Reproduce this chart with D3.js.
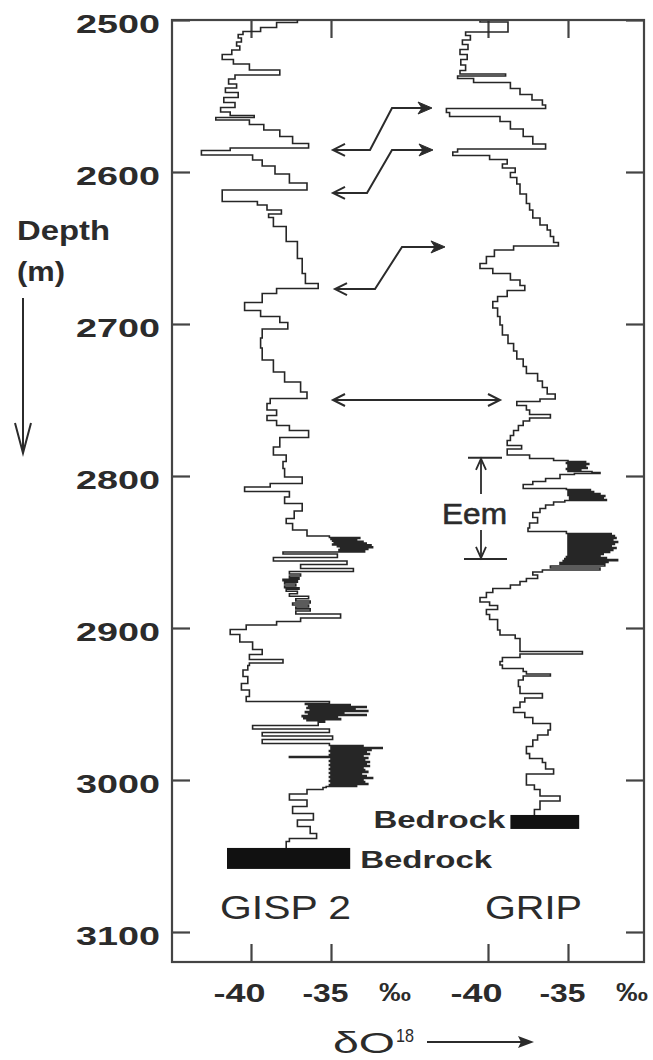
<!DOCTYPE html>
<html><head><meta charset="utf-8">
<script src="https://cdn.jsdelivr.net/npm/d3@7"></script>
<style>body{margin:0;background:#fff;} svg{display:block;}</style>
</head><body>
<svg id="chart" width="653" height="1060"></svg>
<script>
// ---------------- data ----------------
const depthTicks = [2500, 2600, 2700, 2800, 2900, 3000, 3100];
const depthTickLabels = ["2500", "2600", "2700", "2800", "2900", "3000", "3100"];
const valueTicks = [-40, -35];
const valueTickLabels = ["-40", "-35"];
const unitLabel = "‰";
const coreNames = ["GISP 2", "GRIP"];

// [depth (m), δ18O (‰)]
const gispProfile = [[2500.0,-37.1],[2503.3,-38.4],[2506.6,-39.4],[2508.6,-40.5],[2510.5,-40.8],[2513.2,-40.6],[2515.8,-40.9],[2518.4,-40.7],[2521.1,-41.2],[2524.3,-41.8],[2527.6,-41.1],[2530.3,-40.1],[2535.5,-38.2],[2536.8,-41.0],[2540.8,-41.4],[2543.4,-40.9],[2546.1,-41.6],[2549.3,-40.8],[2552.6,-41.7],[2555.9,-41.0],[2559.2,-41.9],[2561.8,-41.3],[2563.8,-39.8],[2564.5,-42.2],[2567.1,-40.1],[2570.4,-39.2],[2574.3,-38.2],[2578.9,-37.4],[2583.6,-36.4],[2584.9,-41.3],[2586.8,-43.1],[2590.8,-39.9],[2593.4,-39.3],[2598.7,-38.5],[2603.9,-37.6],[2610.5,-36.5],[2613.2,-41.8],[2618.4,-41.8],[2620.4,-39.6],[2623.0,-39.0],[2627.0,-38.1],[2628.3,-38.9],[2631.6,-38.6],[2640.1,-37.8],[2651.3,-37.1],[2662.5,-36.8],[2671.1,-36.6],[2675.7,-35.8],[2677.6,-38.4],[2682.2,-39.3],[2689.5,-40.4],[2692.8,-39.4],[2697.4,-38.2],[2700.7,-37.7],[2705.9,-39.3],[2712.5,-39.4],[2719.1,-39.3],[2728.3,-38.6],[2734.9,-37.9],[2741.4,-36.9],[2748.0,-36.5],[2750.0,-38.8],[2754.6,-39.0],[2758.6,-38.4],[2761.8,-39.0],[2765.1,-38.4],[2768.4,-37.6],[2771.7,-36.4],[2777.6,-38.2],[2784.2,-38.6],[2788.2,-37.8],[2792.8,-38.0],[2797.4,-37.9],[2804.0,-36.8],[2805.9,-38.8],[2808.6,-40.4],[2811.8,-37.6],[2815.8,-37.9],[2820.4,-36.8],[2825.7,-37.3],[2830.3,-37.8],[2832.2,-37.4],[2838.8,-36.5],[2840.2,-35.1],[2840.8,-33.2],[2841.4,-35.0],[2842.0,-33.4],[2842.6,-34.9],[2843.2,-33.0],[2843.8,-34.8],[2844.4,-32.8],[2845.0,-34.9],[2845.6,-32.5],[2846.2,-34.6],[2846.8,-32.4],[2847.4,-34.4],[2848.0,-32.7],[2848.7,-34.5],[2849.3,-32.9],[2850.7,-38.0],[2852.0,-34.6],[2855.3,-38.6],[2856.6,-34.0],[2859.9,-36.9],[2861.8,-33.6],[2863.8,-37.6],[2865.1,-36.9],[2866.4,-37.6],[2867.4,-37.0],[2868.4,-38.0],[2869.4,-37.1],[2870.4,-37.9],[2871.7,-37.2],[2873.0,-37.9],[2874.0,-37.0],[2875.0,-37.8],[2876.6,-37.1],[2878.3,-37.6],[2880.0,-36.4],[2881.6,-37.2],[2882.9,-36.3],[2884.2,-37.4],[2885.5,-36.4],[2886.8,-37.2],[2888.1,-36.3],[2889.5,-37.2],[2892.1,-34.4],[2894.7,-36.9],[2896.7,-38.4],[2899.3,-40.3],[2902.6,-41.3],[2905.9,-40.7],[2912.5,-39.9],[2915.8,-39.3],[2919.1,-40.1],[2922.4,-38.0],[2923.7,-40.1],[2925.7,-40.2],[2929.6,-40.5],[2934.2,-40.2],[2938.8,-40.6],[2942.8,-40.1],[2947.4,-40.3],[2949.3,-35.1],[2950.0,-36.6],[2950.7,-33.8],[2951.3,-36.4],[2952.0,-32.8],[2952.6,-36.5],[2953.3,-33.5],[2954.0,-36.3],[2954.6,-32.7],[2955.3,-36.6],[2956.0,-34.2],[2956.6,-36.4],[2957.2,-32.8],[2958.0,-36.8],[2958.6,-34.6],[2959.3,-36.7],[2960.0,-34.4],[2960.5,-36.5],[2961.4,-35.4],[2962.5,-35.8],[2965.8,-39.9],[2967.1,-35.1],[2970.4,-39.3],[2971.7,-34.9],[2975.0,-39.3],[2977.0,-35.1],[2977.7,-33.0],[2978.3,-35.0],[2979.0,-31.8],[2979.6,-35.0],[2980.3,-32.5],[2980.9,-35.1],[2981.5,-32.8],[2982.2,-35.0],[2982.9,-32.6],[2983.5,-35.1],[2984.2,-33.0],[2984.9,-37.6],[2985.5,-32.7],[2986.2,-35.0],[2986.8,-32.9],[2987.5,-35.1],[2988.1,-32.6],[2988.8,-35.0],[2989.5,-32.8],[2990.1,-35.1],[2990.8,-32.6],[2991.4,-35.0],[2992.1,-33.0],[2992.7,-35.1],[2993.4,-32.9],[2994.0,-35.0],[2994.7,-32.7],[2995.4,-35.1],[2996.0,-33.1],[2996.7,-35.0],[2997.4,-32.8],[2998.0,-35.1],[2998.7,-32.4],[2999.3,-35.0],[3000.0,-33.0],[3000.6,-35.1],[3001.3,-32.9],[3002.0,-35.0],[3002.6,-32.7],[3003.3,-35.1],[3003.9,-33.4],[3004.6,-35.3],[3005.3,-35.5],[3007.2,-36.5],[3011.2,-37.6],[3015.1,-36.5],[3019.7,-37.4],[3024.4,-36.1],[3028.3,-37.1],[3032.9,-36.3],[3037.5,-35.9],[3039.5,-37.6],[3041.5,-37.8],[3044.7,-37.8]];

const gripProfile = [[2500.7,-40.5],[2502.0,-38.75],[2507.2,-38.75],[2508.6,-41.4],[2511.8,-41.1],[2514.5,-41.6],[2517.8,-41.25],[2521.1,-41.75],[2524.3,-41.3],[2527.6,-41.7],[2531.6,-41.4],[2534.9,-41.75],[2536.2,-38.9],[2537.5,-41.9],[2539.5,-40.9],[2542.8,-38.6],[2547.4,-38.0],[2550.7,-37.25],[2554.6,-36.6],[2557.2,-36.4],[2559.2,-42.6],[2562.5,-42.4],[2564.5,-39.25],[2569.1,-38.6],[2574.3,-37.8],[2578.9,-37.2],[2584.2,-36.4],[2585.5,-41.9],[2588.2,-42.2],[2590.1,-39.9],[2593.4,-38.8],[2596.1,-39.1],[2598.7,-38.3],[2602.0,-38.6],[2605.3,-38.2],[2610.5,-38.0],[2618.4,-37.6],[2623.0,-37.4],[2627.0,-37.2],[2633.6,-36.75],[2636.2,-36.3],[2640.1,-36.1],[2644.7,-35.9],[2648.0,-35.6],[2649.3,-38.4],[2653.3,-39.6],[2657.9,-40.1],[2662.5,-40.5],[2664.5,-39.7],[2669.1,-38.6],[2673.0,-38.0],[2676.3,-37.7],[2679.6,-38.8],[2684.2,-39.4],[2686.2,-39.7],[2692.8,-39.4],[2697.4,-39.25],[2703.9,-39.1],[2710.5,-38.75],[2715.1,-38.4],[2720.4,-38.2],[2725.7,-37.8],[2730.3,-37.6],[2734.9,-36.9],[2740.1,-36.6],[2743.4,-36.3],[2748.7,-35.8],[2750.0,-36.75],[2752.0,-38.2],[2755.3,-37.6],[2757.9,-37.4],[2761.2,-36.1],[2762.5,-37.4],[2765.1,-37.8],[2768.4,-38.1],[2771.7,-38.4],[2775.0,-38.6],[2778.3,-38.8],[2781.6,-37.9],[2782.9,-38.8],[2784.9,-38.8],[2787.5,-37.4],[2789.5,-35.9],[2790.2,-35.0],[2790.8,-33.9],[2791.4,-35.1],[2792.1,-33.7],[2792.8,-35.0],[2793.4,-33.9],[2794.1,-35.0],[2794.7,-33.8],[2795.4,-35.1],[2796.1,-34.2],[2796.7,-35.0],[2797.4,-33.5],[2798.0,-33.0],[2798.7,-34.6],[2799.3,-35.5],[2800.7,-35.5],[2802.6,-36.4],[2804.6,-37.2],[2806.6,-37.8],[2807.9,-37.8],[2808.6,-35.1],[2809.2,-33.6],[2809.9,-35.0],[2810.5,-33.4],[2811.2,-35.0],[2811.8,-33.0],[2812.5,-35.0],[2813.2,-32.7],[2813.8,-34.9],[2814.5,-32.8],[2815.1,-34.9],[2815.8,-32.6],[2816.5,-35.2],[2817.8,-35.9],[2820.4,-36.4],[2822.4,-36.75],[2825.7,-37.2],[2828.9,-36.9],[2832.9,-37.4],[2835.5,-37.5],[2837.5,-35.1],[2838.1,-32.3],[2838.8,-35.0],[2839.4,-32.1],[2840.1,-35.0],[2840.8,-32.0],[2841.4,-35.0],[2842.1,-32.2],[2842.8,-35.0],[2843.4,-31.9],[2844.1,-35.0],[2844.7,-32.1],[2845.4,-35.0],[2846.1,-32.3],[2846.7,-35.0],[2847.4,-32.0],[2848.0,-35.0],[2848.7,-32.2],[2849.3,-35.0],[2850.0,-32.4],[2850.7,-35.0],[2851.3,-32.8],[2852.0,-35.0],[2852.6,-33.0],[2853.3,-35.1],[2854.0,-32.6],[2854.6,-35.2],[2855.3,-31.9],[2856.0,-35.3],[2856.6,-32.5],[2857.3,-35.5],[2858.6,-32.7],[2859.9,-36.1],[2861.2,-33.0],[2862.5,-36.6],[2863.8,-37.2],[2866.4,-36.9],[2868.4,-37.6],[2870.4,-38.0],[2873.0,-38.6],[2875.0,-39.7],[2878.3,-40.1],[2881.6,-40.5],[2884.2,-39.9],[2886.2,-39.4],[2889.5,-40.1],[2892.8,-39.9],[2896.1,-39.4],[2899.3,-39.4],[2903.3,-39.25],[2905.9,-38.3],[2907.9,-38.0],[2914.5,-38.0],[2916.4,-34.1],[2917.8,-38.0],[2921.1,-39.1],[2923.0,-39.25],[2925.7,-39.1],[2927.6,-37.8],[2929.6,-37.6],[2930.9,-36.1],[2932.2,-37.8],[2936.2,-38.1],[2940.8,-38.0],[2945.4,-36.6],[2946.7,-37.7],[2950.7,-38.0],[2954.0,-38.4],[2957.2,-37.7],[2960.5,-37.2],[2965.1,-36.1],[2969.1,-36.25],[2971.7,-36.9],[2975.7,-37.2],[2980.3,-37.6],[2985.0,-37.4],[2986.8,-36.6],[2990.1,-36.4],[2995.4,-35.9],[2996.7,-37.6],[3002.0,-37.6],[3004.6,-37.1],[3007.9,-36.75],[3013.2,-35.5],[3014.5,-36.75],[3017.8,-36.75],[3021.1,-37.1],[3023.0,-37.1]];

// bedrock bands: [GISP 2, GRIP]
const bedrockTop = [3044.7, 3023.0];
const bedrockBottom = [3058.5, 3032.2];
const bedrockFrom = [-41.5, -38.6];
const bedrockTo = [-33.8, -34.3];
const bedrockLabel = "Bedrock";

// depth tie points between the two cores
const tieGisp = [2585.5, 2613.8, 2677.0, 2750.0];
const tieGrip = [2557.9, 2585.5, 2649.3, 2750.0];

// Eem interval in GRIP
const eemTop = 2788.0, eemBottom = 2854.6;
const eemLabel = "Eem";

// ---------------- drawing ----------------
const svg = d3.select("#chart");
const ink = "#2b2b2b";
const fontSans = "'Liberation Sans', Arial, sans-serif";
const frame = {x0: 172, x1: 644, y0: 20, y1: 962};

const y = d3.scaleLinear().domain([2500, 3100]).range([20, 932]);
const xScales = [
  d3.scaleLinear().domain([-40, -35]).range([251, 331]),
  d3.scaleLinear().domain([-40, -35]).range([488, 568])
];

// frame
svg.append("rect").attr("x", frame.x0).attr("y", frame.y0)
  .attr("width", frame.x1 - frame.x0).attr("height", frame.y1 - frame.y0)
  .attr("fill", "none").attr("stroke", "#444").attr("stroke-width", 2.2);

function styleAxis(g) {
  g.select(".domain").remove();
  g.selectAll(".tick line").attr("stroke", "#444").attr("stroke-width", 2.2);
}

// left depth axis
const gLeft = svg.append("g").attr("transform", `translate(${frame.x0},0)`)
  .call(d3.axisLeft(y).tickValues(depthTicks).tickSizeInner(-18).tickSizeOuter(0)
    .tickFormat((d, i) => depthTickLabels[i]));
styleAxis(gLeft);
gLeft.selectAll(".tick text")
  .attr("x", -96).attr("dy", "0.48em").attr("text-anchor", "start")
  .attr("textLength", 84).attr("lengthAdjust", "spacingAndGlyphs")
  .attr("fill", ink).attr("font-family", fontSans)
  .attr("font-weight", "bold").attr("font-size", 25);

// right ticks
const gRight = svg.append("g").attr("transform", `translate(${frame.x1},0)`)
  .call(d3.axisRight(y).tickValues(depthTicks).tickSizeInner(-18).tickSizeOuter(0).tickFormat(""));
styleAxis(gRight);

// top & bottom value ticks
const labelOffsets = [-38, -29];
const labelLengths = [52, 46];
xScales.forEach((xs, k) => {
  const gTop = svg.append("g").attr("transform", `translate(0,${frame.y0})`)
    .call(d3.axisTop(xs).tickValues(valueTicks).tickSizeInner(-18).tickSizeOuter(0).tickFormat(""));
  styleAxis(gTop);
  const gBot = svg.append("g").attr("transform", `translate(0,${frame.y1})`)
    .call(d3.axisBottom(xs).tickValues(valueTicks).tickSizeInner(-18).tickSizeOuter(0)
      .tickFormat((d, i) => valueTickLabels[i]));
  styleAxis(gBot);
  gBot.selectAll(".tick text")
    .attr("y", 40).attr("dy", 0)
    .attr("x", (d, i) => labelOffsets[i])
    .attr("text-anchor", "start")
    .attr("textLength", (d, i) => labelLengths[i]).attr("lengthAdjust", "spacingAndGlyphs")
    .attr("fill", ink).attr("font-family", fontSans)
    .attr("font-weight", "bold").attr("font-size", 25);
  // per-mil unit
  svg.append("text").attr("x", xs(-31) - 16).attr("y", 1001)
    .attr("textLength", 32).attr("lengthAdjust", "spacingAndGlyphs")
    .attr("fill", ink).attr("font-family", fontSans)
    .attr("font-weight", "bold").attr("font-size", 25)
    .text(unitLabel);
});

// profiles: stepped along depth. The path is built with depth on the
// first coordinate and then mirrored (x<->y) so steps run down the depth axis.
const profiles = [gispProfile, gripProfile];
profiles.forEach((prof, k) => {
  const line = d3.line().curve(d3.curveStep).x(d => y(d[0])).y(d => xScales[k](d[1]));
  svg.append("path").datum(prof).attr("d", line)
    .attr("transform", "matrix(0,1,1,0,0,0)")
    .attr("fill", "none").attr("stroke", "#262626").attr("stroke-width", 1.6);
});

// bedrock bands
bedrockTop.forEach((top, k) => {
  const xs = xScales[k];
  svg.append("rect").attr("x", xs(bedrockFrom[k])).attr("y", y(top))
    .attr("width", xs(bedrockTo[k]) - xs(bedrockFrom[k]))
    .attr("height", y(bedrockBottom[k]) - y(top))
    .attr("fill", "#111");
});
// GISP 2 bedrock label (right of band)
svg.append("text").attr("x", xScales[0](bedrockTo[0]) + 10).attr("y", y(bedrockBottom[0]) - 1)
  .attr("textLength", 132).attr("lengthAdjust", "spacingAndGlyphs")
  .attr("font-family", fontSans).attr("font-weight", "bold").attr("font-size", 24)
  .attr("fill", ink).text(bedrockLabel);
// GRIP bedrock label (left of band)
svg.append("text").attr("x", xScales[1](bedrockFrom[1]) - 137).attr("y", y(bedrockBottom[1]) - 1)
  .attr("textLength", 132).attr("lengthAdjust", "spacingAndGlyphs")
  .attr("font-family", fontSans).attr("font-weight", "bold").attr("font-size", 24)
  .attr("fill", ink).text(bedrockLabel);

// core names
svg.append("text").attr("x", 220).attr("y", 919)
  .attr("textLength", 131).attr("lengthAdjust", "spacingAndGlyphs")
  .attr("font-family", fontSans).attr("font-size", 34).attr("fill", ink).text(coreNames[0]);
svg.append("text").attr("x", 485).attr("y", 919)
  .attr("textLength", 97).attr("lengthAdjust", "spacingAndGlyphs")
  .attr("font-family", fontSans).attr("font-size", 34).attr("fill", ink).text(coreNames[1]);

// arrowhead helpers
function openHead(g, x, yy, dir) {
  g.append("path").attr("d", `M${x - dir * 12},${yy - 6}L${x},${yy}L${x - dir * 12},${yy + 6}`)
    .attr("fill", "none").attr("stroke", ink).attr("stroke-width", 2);
}
function filledHead(g, x, yy, dir) {
  g.append("path").attr("d", `M${x},${yy}L${x - dir * 14},${yy - 6}L${x - dir * 10},${yy}L${x - dir * 14},${yy + 6}Z`)
    .attr("fill", ink).attr("stroke", ink).attr("stroke-width", 1);
}

// tie arrows (layout x positions)
const tieLayout = [
  {xl: 333, bl: 370, br: 392, xr: 432},
  {xl: 333, bl: 367, br: 392, xr: 433},
  {xl: 335, bl: 375, br: 402, xr: 445},
  {xl: 333, bl: null, br: null, xr: 500}
];
const gArr = svg.append("g");
tieGisp.forEach((dg, i) => {
  const L = tieLayout[i];
  const yl = y(dg), yr = y(tieGrip[i]);
  let d;
  if (L.bl === null) d = `M${L.xl},${yl}L${L.xr},${yr}`;
  else d = `M${L.xl},${yl}L${L.bl},${yl}L${L.br},${yr}L${L.xr - 4},${yr}`;
  gArr.append("path").attr("d", d).attr("fill", "none").attr("stroke", ink).attr("stroke-width", 2);
  openHead(gArr, L.xl, yl, -1);
  if (L.bl === null) openHead(gArr, L.xr, yr, 1);
  else filledHead(gArr, L.xr, yr, 1);
});

// Eem interval marker
const ey0 = y(eemTop), ey1 = y(eemBottom);
svg.append("line").attr("x1", 468).attr("x2", 502).attr("y1", ey0).attr("y2", ey0)
  .attr("stroke", ink).attr("stroke-width", 2);
svg.append("line").attr("x1", 464).attr("x2", 507).attr("y1", ey1).attr("y2", ey1)
  .attr("stroke", ink).attr("stroke-width", 2);
svg.append("line").attr("x1", 481).attr("x2", 481).attr("y1", 494).attr("y2", ey0 + 1)
  .attr("stroke", ink).attr("stroke-width", 1.8);
svg.append("line").attr("x1", 481).attr("x2", 481).attr("y1", 530).attr("y2", ey1 - 1)
  .attr("stroke", ink).attr("stroke-width", 1.8);
svg.append("path").attr("d", `M476,${ey0 + 12}L481,${ey0 + 1}L486,${ey0 + 12}`)
  .attr("fill", "none").attr("stroke", ink).attr("stroke-width", 1.8);
svg.append("path").attr("d", `M476,${ey1 - 12}L481,${ey1 - 1}L486,${ey1 - 12}`)
  .attr("fill", "none").attr("stroke", ink).attr("stroke-width", 1.8);
svg.append("text").attr("x", 442).attr("y", (ey0 + ey1) / 2 + 16)
  .attr("textLength", 65).attr("lengthAdjust", "spacingAndGlyphs")
  .attr("font-family", fontSans).attr("font-size", 30).attr("fill", ink)
  .attr("stroke", ink).attr("stroke-width", 0.6).text(eemLabel);

// Depth label and arrow
svg.append("text").attr("x", 17).attr("y", 240)
  .attr("textLength", 93).attr("lengthAdjust", "spacingAndGlyphs")
  .attr("font-family", fontSans).attr("font-weight", "bold").attr("font-size", 27)
  .attr("fill", ink).text("Depth");
svg.append("text").attr("x", 17).attr("y", 281)
  .attr("textLength", 48).attr("lengthAdjust", "spacingAndGlyphs")
  .attr("font-family", fontSans).attr("font-weight", "bold").attr("font-size", 27)
  .attr("fill", ink).text("(m)");
svg.append("line").attr("x1", 23).attr("x2", 23).attr("y1", 298).attr("y2", 452)
  .attr("stroke", ink).attr("stroke-width", 2);
svg.append("path").attr("d", "M15,423L23,453L31,423")
  .attr("fill", "none").attr("stroke", ink).attr("stroke-width", 2);

// x-axis title δO18 with arrow
svg.append("text").attr("x", 333).attr("y", 1053)
  .attr("textLength", 62).attr("lengthAdjust", "spacingAndGlyphs")
  .attr("font-family", fontSans).attr("font-size", 30).attr("fill", ink).text("δO");
svg.append("text").attr("x", 396).attr("y", 1042)
  .attr("textLength", 18).attr("lengthAdjust", "spacingAndGlyphs")
  .attr("font-family", fontSans).attr("font-size", 19).attr("fill", ink).text("18");
svg.append("line").attr("x1", 427).attr("x2", 522).attr("y1", 1042).attr("y2", 1042)
  .attr("stroke", ink).attr("stroke-width", 2);
svg.append("path").attr("d", "M534,1042L518,1036L521,1042L518,1048Z").attr("fill", ink);
</script>
</body></html>
